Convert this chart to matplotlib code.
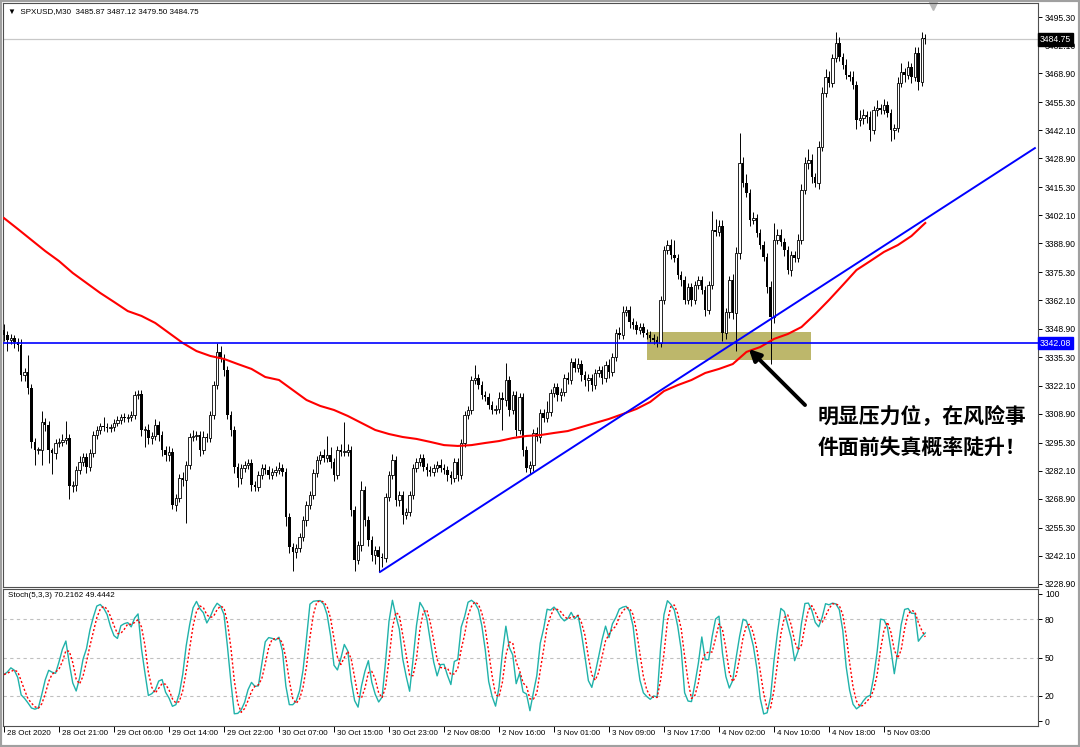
import numpy as np
import pandas as pd
import matplotlib
matplotlib.use("Agg")
import matplotlib.pyplot as plt
from matplotlib.patches import Rectangle
from matplotlib.transforms import blended_transform_factory

plt.rcParams['font.family'] = ['Liberation Sans', 'DejaVu Sans']

# ---- 数据 ----
symbol_title = "\u25bc  SPXUSD,M30  3485.87 3487.12 3479.50 3484.75"
stoch_title = "Stoch(5,3,3) 70.2162 49.4442"

first_open = 3348.0
closes = [
    3345.8, 3343.5, 3344.4, 3342.6, 3341.1, 3327.0, 3328.5, 3320.9, 3295.6, 3291.8,
    3291.8, 3305.0, 3303.5, 3291.8, 3290.4, 3295.1, 3295.6, 3296.5, 3297.4, 3274.9,
    3275.3, 3282.4, 3286.2, 3288.5, 3283.8, 3290.4, 3298.8, 3301.2, 3303.1, 3302.6,
    3302.1, 3302.6, 3304.5, 3305.9, 3307.3, 3306.8, 3307.3, 3308.2, 3317.6, 3318.1,
    3301.2, 3301.2, 3297.4, 3298.4, 3303.5, 3298.8, 3291.8, 3289.4, 3290.9, 3265.9,
    3269.2, 3278.6, 3277.7, 3284.7, 3297.9, 3298.4, 3298.8, 3291.8, 3297.9, 3297.4,
    3308.2, 3322.3, 3337.9, 3335.0, 3329.4, 3308.2, 3301.2, 3283.8, 3278.6, 3283.3,
    3284.7, 3285.7, 3275.3, 3274.4, 3280.0, 3283.3, 3282.4, 3280.0, 3281.5, 3282.4,
    3283.3, 3281.5, 3260.3, 3246.2, 3243.9, 3245.7, 3250.9, 3258.9, 3265.9, 3270.6,
    3281.0, 3287.1, 3289.4, 3288.0, 3289.4, 3286.2, 3280.0, 3291.8, 3290.9, 3290.9,
    3291.8, 3263.6, 3240.1, 3247.2, 3273.0, 3258.9, 3249.5, 3242.4, 3244.8, 3241.5,
    3241.0, 3269.7, 3280.0, 3287.1, 3268.3, 3270.6, 3261.2, 3262.7, 3270.6, 3283.3,
    3286.2, 3288.0, 3283.8, 3282.4, 3281.5, 3283.3, 3284.7, 3283.3, 3282.4, 3280.0,
    3278.6, 3286.2, 3280.0, 3295.1, 3308.2, 3310.6, 3324.7, 3325.6, 3322.3, 3317.6,
    3316.7, 3312.9, 3310.6, 3311.1, 3316.2, 3315.3, 3324.7, 3310.6, 3317.6, 3301.2,
    3316.7, 3291.8, 3283.3, 3284.7, 3299.8, 3297.9, 3309.2, 3306.8, 3309.7, 3318.6,
    3321.4, 3317.6, 3319.1, 3325.6, 3324.7, 3333.2, 3330.3, 3332.2, 3327.0, 3324.7,
    3325.6, 3322.3, 3328.0, 3329.4, 3325.6, 3331.8, 3328.5, 3335.5, 3346.8, 3345.8,
    3356.7, 3357.6, 3352.0, 3350.5, 3348.2, 3349.6, 3346.8, 3345.8, 3344.4, 3343.5,
    3342.1, 3362.3, 3385.8, 3388.1, 3383.4, 3382.0, 3374.0, 3371.7, 3362.3, 3368.4,
    3362.3, 3369.3, 3371.7, 3367.0, 3357.6, 3369.3, 3395.2, 3394.3, 3397.1, 3346.8,
    3356.7, 3371.7, 3356.2, 3384.4, 3426.7, 3417.3, 3412.6, 3399.9, 3400.8, 3393.8,
    3388.1, 3382.5, 3368.4, 3354.3, 3390.5, 3392.8, 3389.6, 3385.8, 3376.4, 3383.4,
    3382.0, 3390.5, 3414.0, 3426.7, 3428.1, 3420.1, 3417.3, 3434.2, 3459.6, 3467.1,
    3464.3, 3476.0, 3483.1, 3476.5, 3472.7, 3468.0, 3467.1, 3463.3, 3446.9, 3447.8,
    3449.2, 3448.3, 3442.2, 3451.6, 3452.5, 3451.6, 3453.9, 3450.2, 3442.2, 3443.1,
    3464.3, 3469.5, 3468.0, 3471.8, 3467.1, 3478.4, 3464.8, 3485.4, 3484.75,
]
upper_wick = [
    3, 2, 2, 1.5, 2, 3, 2, 8, 2, 2,
    1.5, 5, 2, 2, 1, 2, 2, 3, 8, 2,
    2, 2, 3, 2, 2, 2, 2, 2, 1.5, 4,
    2, 1.5, 2, 2, 1.5, 2, 1.5, 2, 2, 2,
    2, 2, 3, 2, 3, 2, 2, 2, 3, 2,
    2, 2, 3, 2, 2, 3, 2, 2, 3, 2,
    2, 2, 4, 3, 2, 2, 2, 2, 2, 2,
    2, 2, 2, 2, 2, 2, 2, 2, 2, 2,
    3, 2, 2, 2, 2, 2, 2, 2, 2, 2,
    2, 2, 2, 3, 9, 4, 2, 2, 3, 14,
    3, 2, 2, 2, 4, 2, 2, 2, 2, 2,
    2, 2, 2, 3, 2, 2, 2, 2, 2, 2,
    2, 2, 2, 2, 2, 2, 2, 3, 2, 2,
    2, 2, 2, 2, 2, 2, 2, 6, 2, 2,
    2, 2, 2, 2, 3, 3, 8, 2, 2, 2,
    2, 2, 2, 2, 2, 3, 2, 2, 5, 2,
    2, 2, 2, 2, 3, 2, 2, 3, 2, 2,
    2, 2, 2, 2, 2, 2, 3, 2, 2, 3,
    3, 2, 2, 2, 2, 2, 2, 2, 2, 2,
    2, 2, 2, 2.5, 3, 7, 2, 2, 2, 2,
    2, 2, 2, 2, 2, 2, 9, 5, 3, 3,
    2, 2, 3, 3, 14, 3, 4, 2, 3, 2,
    2, 2, 2, 3, 8, 3, 3, 2, 2, 2,
    2, 3, 3, 3, 5, 3, 2, 3, 3, 4,
    3, 2, 5, 3, 2, 3, 2, 3, 2, 4,
    3, 2, 3, 2, 4, 2, 3, 2, 2, 2,
    3, 4, 2, 3, 2, 3, 3, 3, 2,
]
lower_wick = [
    3, 5, 2, 3, 3, 3, 3, 3, 3, 7,
    2, 7, 3, 6, 10, 3, 2, 2, 2, 6,
    3, 3, 2, 2, 3, 2, 2, 2, 2, 2,
    2, 2, 2, 1.5, 2, 2, 2, 2, 2, 2,
    3, 8, 3, 3, 2, 3, 3, 3, 3, 2,
    3, 2, 3, 20, 2, 2, 2, 3, 2, 2,
    2, 2, 2, 2, 3, 2, 3, 3, 4, 3,
    2, 2, 3, 2, 2, 2, 2, 2, 2, 2,
    2, 2, 4, 3, 9, 3, 2, 2, 3, 2,
    2, 2, 2, 2, 2, 3, 3, 2, 2, 2,
    2, 3, 5, 2, 3, 3, 3, 3, 4, 7,
    4, 2, 2, 2, 3, 3, 4, 2, 2, 2,
    2, 2, 2, 3, 2, 2, 2, 2, 2, 3,
    3, 2, 3, 2, 2, 2, 2, 2, 2, 2,
    2, 2, 2, 2, 2, 14, 3, 3, 2, 3,
    2, 3, 2, 3, 3, 2, 3, 2, 2, 2,
    2, 3, 3, 2, 2, 2, 2, 2, 3, 3,
    5, 3, 2, 2, 3, 2, 3, 2, 2, 2,
    2, 2, 3, 2, 2, 2, 2, 2, 2, 2,
    2, 2, 2, 2, 2, 2, 2, 3, 2, 2,
    3, 2, 2, 2, 3, 2, 2, 2, 2, 4,
    3, 3, 3, 18, 3, 2, 2, 3, 2, 2,
    2, 2, 3, 22, 3, 2, 2, 3, 2, 3,
    2, 2, 2, 2, 3, 3, 2, 3, 2, 2,
    2, 2, 2, 2, 2, 2, 2, 2, 4, 3,
    3, 3, 5, 2, 3, 2, 2, 2, 5, 4,
    2, 2, 3, 2, 3, 2, 4, 2, 2,
]

# 均线 (每4根K线读一次)
ma_bars = list(range(0, 265, 4)) + [268]
ma_values = [
    3400.8, 3395.7, 3390.5, 3385.3, 3380.6, 3375.0, 3370.3, 3365.6, 3361.4, 3357.1,
    3354.8, 3351.5, 3346.8, 3342.1, 3338.3, 3336.0, 3334.6, 3332.2, 3329.9, 3326.1,
    3324.7, 3320.0, 3315.3, 3312.5, 3310.6, 3307.8, 3304.5, 3301.2, 3299.3, 3297.9,
    3297.0, 3295.6, 3294.1, 3293.7, 3294.1, 3295.1, 3296.0, 3297.4, 3298.4, 3298.8,
    3299.8, 3300.7, 3302.6, 3304.5, 3306.4, 3308.7, 3311.1, 3314.4, 3319.5, 3322.3,
    3324.7, 3328.0, 3329.9, 3332.2, 3337.9, 3340.2, 3344.0, 3346.3, 3349.6, 3355.7,
    3362.3, 3369.3, 3376.4, 3380.6, 3384.9, 3388.1, 3392.4, 3398.5,
]

support_level = 3342.08
last_price = 3484.75
trend_bars = [109.4, 299.9]
trend_prices = [3234.5, 3433.7]
zone_bars = [187.1, 234.8]
zone_prices = [3334.1, 3347.3]
arrow_tail = (233.6, 3312.0)
arrow_tip = (216.1, 3340.2)
note_pos = (236.8, 3308.2)
note_lines = ["明显压力位，在风险事", "件面前失真概率陡升！"]

price_ticks = [3495.30, 3482.10, 3468.90, 3455.30, 3442.10, 3428.90, 3415.30,
               3402.10, 3388.90, 3375.30, 3362.10, 3348.90, 3335.30, 3322.10,
               3308.90, 3295.30, 3282.10, 3268.90, 3255.30, 3242.10, 3228.90]
stoch_ticks = [0, 20, 50, 80, 100]
stoch_levels = [20, 50, 80]
time_label_bars = list(range(0, 257, 16))
time_labels = ["28 Oct 2020", "28 Oct 21:00", "29 Oct 06:00", "29 Oct 14:00",
               "29 Oct 22:00", "30 Oct 07:00", "30 Oct 15:00", "30 Oct 23:00",
               "2 Nov 08:00", "2 Nov 16:00", "3 Nov 01:00", "3 Nov 09:00",
               "3 Nov 17:00", "4 Nov 02:00", "4 Nov 10:00", "4 Nov 18:00",
               "5 Nov 03:00"]

small_font = 5.8


def main():
    c = np.array(closes)
    o = np.r_[first_open, c[:-1]]
    h = np.maximum(o, c) + np.array(upper_wick)
    l = np.minimum(o, c) - np.array(lower_wick)
    x = np.arange(len(c))

    # Stoch(5,3,3)
    hs, ls, cs = pd.Series(h), pd.Series(l), pd.Series(c)
    ll = ls.rolling(5, min_periods=1).min()
    hh = hs.rolling(5, min_periods=1).max()
    k = 100 * (cs - ll).rolling(3, min_periods=1).sum() / (hh - ll).rolling(3, min_periods=1).sum()
    d = k.rolling(3, min_periods=1).mean()

    fig = plt.figure(figsize=(10.8, 7.47), dpi=100)
    fig.patch.set_facecolor('white')
    ax = fig.add_axes([3 / 1080, 1 - 587 / 747, 1035 / 1080, 584 / 747])
    ax2 = fig.add_axes([3 / 1080, 1 - 726 / 747, 1035 / 1080, 137 / 747], sharex=ax)

    # K线
    up = c >= o
    body = np.maximum(np.abs(c - o), 0.35)
    ax.vlines(x, l, h, color='black', lw=0.7, zorder=3)
    ax.bar(x[up], body[up], bottom=o[up], width=0.72, facecolor='white',
           edgecolor='black', lw=0.6, zorder=4)
    ax.bar(x[~up], body[~up], bottom=c[~up], width=0.72, color='black', lw=0, zorder=4)

    ax.plot(ma_bars, ma_values, color='red', lw=1.5, zorder=5)
    ax.axhline(last_price, color='#c8c8c8', lw=0.9, zorder=0)
    ax.axhline(support_level, color='blue', lw=1.2, zorder=6)
    ax.plot(trend_bars, trend_prices, color='blue', lw=1.4, zorder=6)
    ax.add_patch(Rectangle((zone_bars[0], zone_prices[0]), zone_bars[1] - zone_bars[0],
                           zone_prices[1] - zone_prices[0], facecolor='#bdb76b',
                           edgecolor='none', zorder=1))
    ax.annotate('', xy=arrow_tip, xytext=arrow_tail,
                arrowprops=dict(arrowstyle='-|>', lw=2.8, color='black', mutation_scale=17),
                zorder=7)
    for i, line in enumerate(note_lines):
        ax.text(note_pos[0], note_pos[1] - i * 15.0, line, fontsize=15, fontweight='bold',
                family=['Noto Sans CJK SC', 'DejaVu Sans'], va='center', ha='left', zorder=8)

    ax.set_xlim(-0.29, 300.8)
    ax.set_ylim(3227.4, 3501.9)
    ax.yaxis.tick_right()
    ax.set_yticks(price_ticks)
    ax.set_yticklabels(["%.2f" % v for v in price_ticks])
    ax.tick_params(axis='y', length=3, width=0.7, labelsize=6.2, pad=2, direction='out')
    ax.tick_params(axis='x', bottom=False, labelbottom=False)
    for s in ax.spines.values():
        s.set_color('#505050')
        s.set_linewidth(0.8)

    ytrans = blended_transform_factory(ax.transAxes, ax.transData)
    ax.text(1.002, last_price, "%.2f" % last_price, transform=ytrans, fontsize=6.2,
            color='white', va='center', ha='left', zorder=9,
            bbox=dict(boxstyle='square,pad=0.2', facecolor='black', edgecolor='black'))
    ax.text(1.002, support_level, "%.2f" % support_level, transform=ytrans, fontsize=6.2,
            color='white', va='center', ha='left', zorder=9,
            bbox=dict(boxstyle='square,pad=0.2', facecolor='blue', edgecolor='blue'))
    ax.text(0.005, 0.986, symbol_title, transform=ax.transAxes, fontsize=small_font,
            va='center', ha='left')
    xtrans = blended_transform_factory(ax.transData, ax.transAxes)
    ax.plot([270.3], [0.995], marker='v', color='#b8b8b8', ms=6, transform=xtrans, clip_on=False)

    # 随机指标
    ax2.plot(x, k, color='#20b2aa', lw=1.0)
    ax2.plot(x, d, color='red', lw=1.0, ls=(0, (1.5, 1.5)))
    for lv in stoch_levels:
        ax2.axhline(lv, color='#c0c0c0', lw=0.8, ls=(0, (3, 3)), zorder=0)
    ax2.set_ylim(-3.9, 103.9)
    ax2.yaxis.tick_right()
    ax2.set_yticks(stoch_ticks)
    ax2.set_yticklabels([str(v) for v in stoch_ticks])
    ax2.tick_params(axis='y', length=3, width=0.7, labelsize=6.2, pad=2)
    ax2.set_xticks(time_label_bars)
    ax2.tick_params(axis='x', length=4, width=0.7, labelbottom=False)
    for s in ax2.spines.values():
        s.set_color('#505050')
        s.set_linewidth(0.8)
    ax2.text(0.005, 0.95, stoch_title, transform=ax2.transAxes, fontsize=small_font,
             va='center', ha='left')
    t2 = blended_transform_factory(ax2.transData, ax2.transAxes)
    for b, lab in zip(time_label_bars, time_labels):
        ax2.text(b + 0.9, -0.03, lab, transform=t2, fontsize=small_font, ha='left', va='top')

    fig.patches.append(Rectangle((0, 0), 1, 1, transform=fig.transFigure, fill=False,
                                 edgecolor='#a0a0a0', lw=3))
    fig.savefig("out.png", dpi=100)


if __name__ == '__main__':
    main()
